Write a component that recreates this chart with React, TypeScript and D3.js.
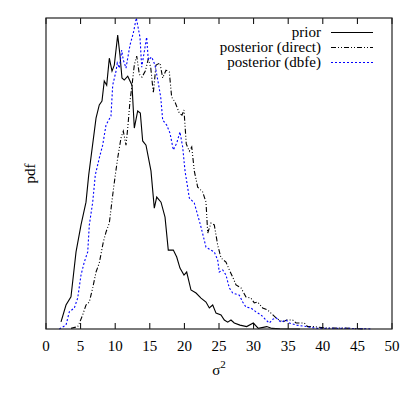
import React from "react";
import * as d3 from "d3";

const xTicks = [0, 5, 10, 15, 20, 25, 30, 35, 40, 45, 50];
const seriesNames = ["prior", "posterior (direct)", "posterior (dbfe)"];

const priorX = [2.17,2.89,3.61,4.34,5.06,5.78,6.17,7.23,7.70,8.09,8.42,8.77,9.15,9.54,9.87,10.36,10.69,10.98,11.31,11.81,12.43,12.76,13.25,13.63,13.97,14.45,15.17,15.65,16.0,16.62,17.2,17.67,18.4,18.89,19.36,19.94,20.33,20.95,21.68,22.4,23.12,23.6,24.09,24.57,25.29,25.77,26.26,26.73,27.21,28.03,29.0,29.96,30.68,31.9,32.66,33.8,36.7];
const priorY = [0.0024,0.0080,0.0107,0.0257,0.0347,0.0423,0.0513,0.0703,0.0747,0.0760,0.0827,0.0813,0.0903,0.0860,0.0880,0.0980,0.0913,0.0837,0.0830,0.0843,0.0813,0.0670,0.0727,0.0720,0.0627,0.0613,0.0527,0.0403,0.0440,0.0423,0.0373,0.0263,0.0263,0.0240,0.0203,0.0180,0.0190,0.0130,0.0120,0.0103,0.0090,0.0070,0.0080,0.0053,0.0047,0.0030,0.0023,0.0030,0.0020,0.0013,0.0008,0.0020,0.0002,0.0008,0.0002,0.0001,0];

const directX = [3.61,4.58,4.81,5.30,5.78,6.26,6.75,7.23,7.70,8.28,8.67,9.15,9.64,10.01,10.36,10.84,11.17,11.56,11.81,12.14,12.43,12.76,13.11,13.48,13.87,14.35,14.78,15.13,15.51,15.90,16.47,16.86,17.34,17.82,18.16,18.64,19.26,19.65,19.94,20.27,20.71,21.06,21.43,21.92,22.64,23.12,23.37,23.84,24.32,24.81,25.29,26.01,26.49,26.98,27.46,28.18,28.90,29.62,30.1,30.59,31.31,32.04,32.51,33.24,34.2,34.78,35.65,36.13,37.33,37.82,38.63,40.56,42.96,44.9,46.1];
const directY = [0.0002,0.0008,0.0019,0.0047,0.0080,0.0090,0.0137,0.0190,0.0220,0.0290,0.0323,0.0353,0.0447,0.0513,0.0570,0.0637,0.0660,0.0613,0.0670,0.0760,0.0813,0.0880,0.0910,0.0850,0.0840,0.0860,0.0900,0.0873,0.0787,0.0880,0.0887,0.0837,0.0863,0.0857,0.0773,0.0757,0.0720,0.0713,0.0730,0.0617,0.0593,0.0607,0.0527,0.0473,0.0457,0.0423,0.0320,0.0353,0.0347,0.0280,0.0237,0.0223,0.0197,0.0173,0.0147,0.0137,0.0107,0.0103,0.0087,0.0090,0.0070,0.0063,0.0053,0.0037,0.0023,0.0030,0.0030,0.0020,0.0020,0.0008,0.0008,0.0003,0.0003,0.0001,0];

const dbfeX = [1.92,2.89,3.37,4.09,4.58,5.06,5.53,6.03,6.26,6.75,7.12,7.70,8.19,8.67,9.39,9.64,10.12,10.30,10.59,10.94,11.17,11.56,12.14,12.62,13.05,13.58,13.83,14.31,14.55,14.78,15.27,15.75,16.23,16.58,16.86,17.44,17.92,18.40,18.89,19.36,19.75,20.09,20.71,21.43,21.92,22.40,23.12,23.84,24.32,24.81,25.04,25.53,26.01,26.49,26.98,27.93,28.42,28.90,29.62,30.35,31.07,31.79,32.27,32.8,33.24,33.96,34.68,35.16,36.23,37.67,39.12,41.5,43.9,46.3,47.1];
const dbfeY = [0,0.0013,0.0057,0.0070,0.0103,0.0180,0.0223,0.0257,0.0347,0.0423,0.0513,0.0570,0.0613,0.0680,0.0710,0.0813,0.0860,0.0887,0.0870,0.0930,0.0897,0.0870,0.0947,0.0987,0.1037,0.0973,0.0873,0.0940,0.0973,0.0897,0.0907,0.0880,0.0820,0.0773,0.0697,0.0680,0.0653,0.0597,0.0620,0.0657,0.0607,0.0527,0.0437,0.0420,0.0380,0.0340,0.0273,0.0263,0.0257,0.0230,0.0190,0.0197,0.0180,0.0137,0.0120,0.0113,0.0090,0.0073,0.0070,0.0057,0.0047,0.0030,0.0020,0.0033,0.0037,0.0023,0.0030,0.0020,0.0013,0.0008,0.0002,0.0002,0.0002,0.0001,0];

const W = 415, H = 395;
const L = 46, R = 392, T = 18, B = 329;
const FONT = "Liberation Serif, Times New Roman, serif";

export default function App() {
  const x = d3.scaleLinear().domain([0, 50]).range([L, R]);
  const y = d3.scaleLinear().domain([0, 0.1037]).range([B, T]);
  const line = d3.line<[number, number]>().x(d => x(d[0])).y(d => y(d[1]));
  const zip = (xs: number[], ys: number[]) => xs.map((v, i) => [v, ys[i]] as [number, number]);

  const series = [
    { name: seriesNames[0], data: zip(priorX, priorY), color: "#000", dash: undefined as string | undefined },
    { name: seriesNames[1], data: zip(directX, directY), color: "#000", dash: "5,2,1,2,1,2" },
    { name: seriesNames[2], data: zip(dbfeX, dbfeY), color: "#0000ff", dash: "2,2" },
  ];
  const ts = { fontFamily: FONT };

  return (
    <svg width={W} height={H} style={{ position: "absolute", left: 0, top: 0 }}>
      <rect x={0} y={0} width={W} height={H} fill="#fff" />
      {series.map((s, i) => (
        <path key={i} d={line(s.data) || ""} fill="none" stroke={s.color} strokeWidth={1.1} strokeDasharray={s.dash} />
      ))}
      {xTicks.map(t => (
        <g key={t}>
          <line x1={x(t)} x2={x(t)} y1={B} y2={B - 6} stroke="#000" strokeWidth={1} />
          <line x1={x(t)} x2={x(t)} y1={T} y2={T + 6} stroke="#000" strokeWidth={1} />
          <text x={x(t)} y={351} textAnchor="middle" fontSize={15} fill="#000" style={ts}>{t}</text>
        </g>
      ))}
      <rect x={L} y={T} width={R - L} height={B - T} fill="none" stroke="#222" strokeWidth={1.2} />
      {series.map((s, i) => (
        <g key={"lg" + i}>
          <text x={321} y={37 + i * 15} textAnchor="end" fontSize={15} fill="#000" style={ts}>{s.name}</text>
          <line x1={331} x2={373} y1={32.5 + i * 15} y2={32.5 + i * 15} stroke={s.color} strokeWidth={1.1} strokeDasharray={s.dash} />
        </g>
      ))}
      <text x={219} y={375} textAnchor="middle" fontSize={15} fill="#000" style={ts}>
        σ<tspan dy={-7} fontSize={11}>2</tspan>
      </text>
      <text transform={`translate(35,${(T + B) / 2}) rotate(-90)`} textAnchor="middle" fontSize={15} fill="#000" style={ts}>pdf</text>
    </svg>
  );
}
